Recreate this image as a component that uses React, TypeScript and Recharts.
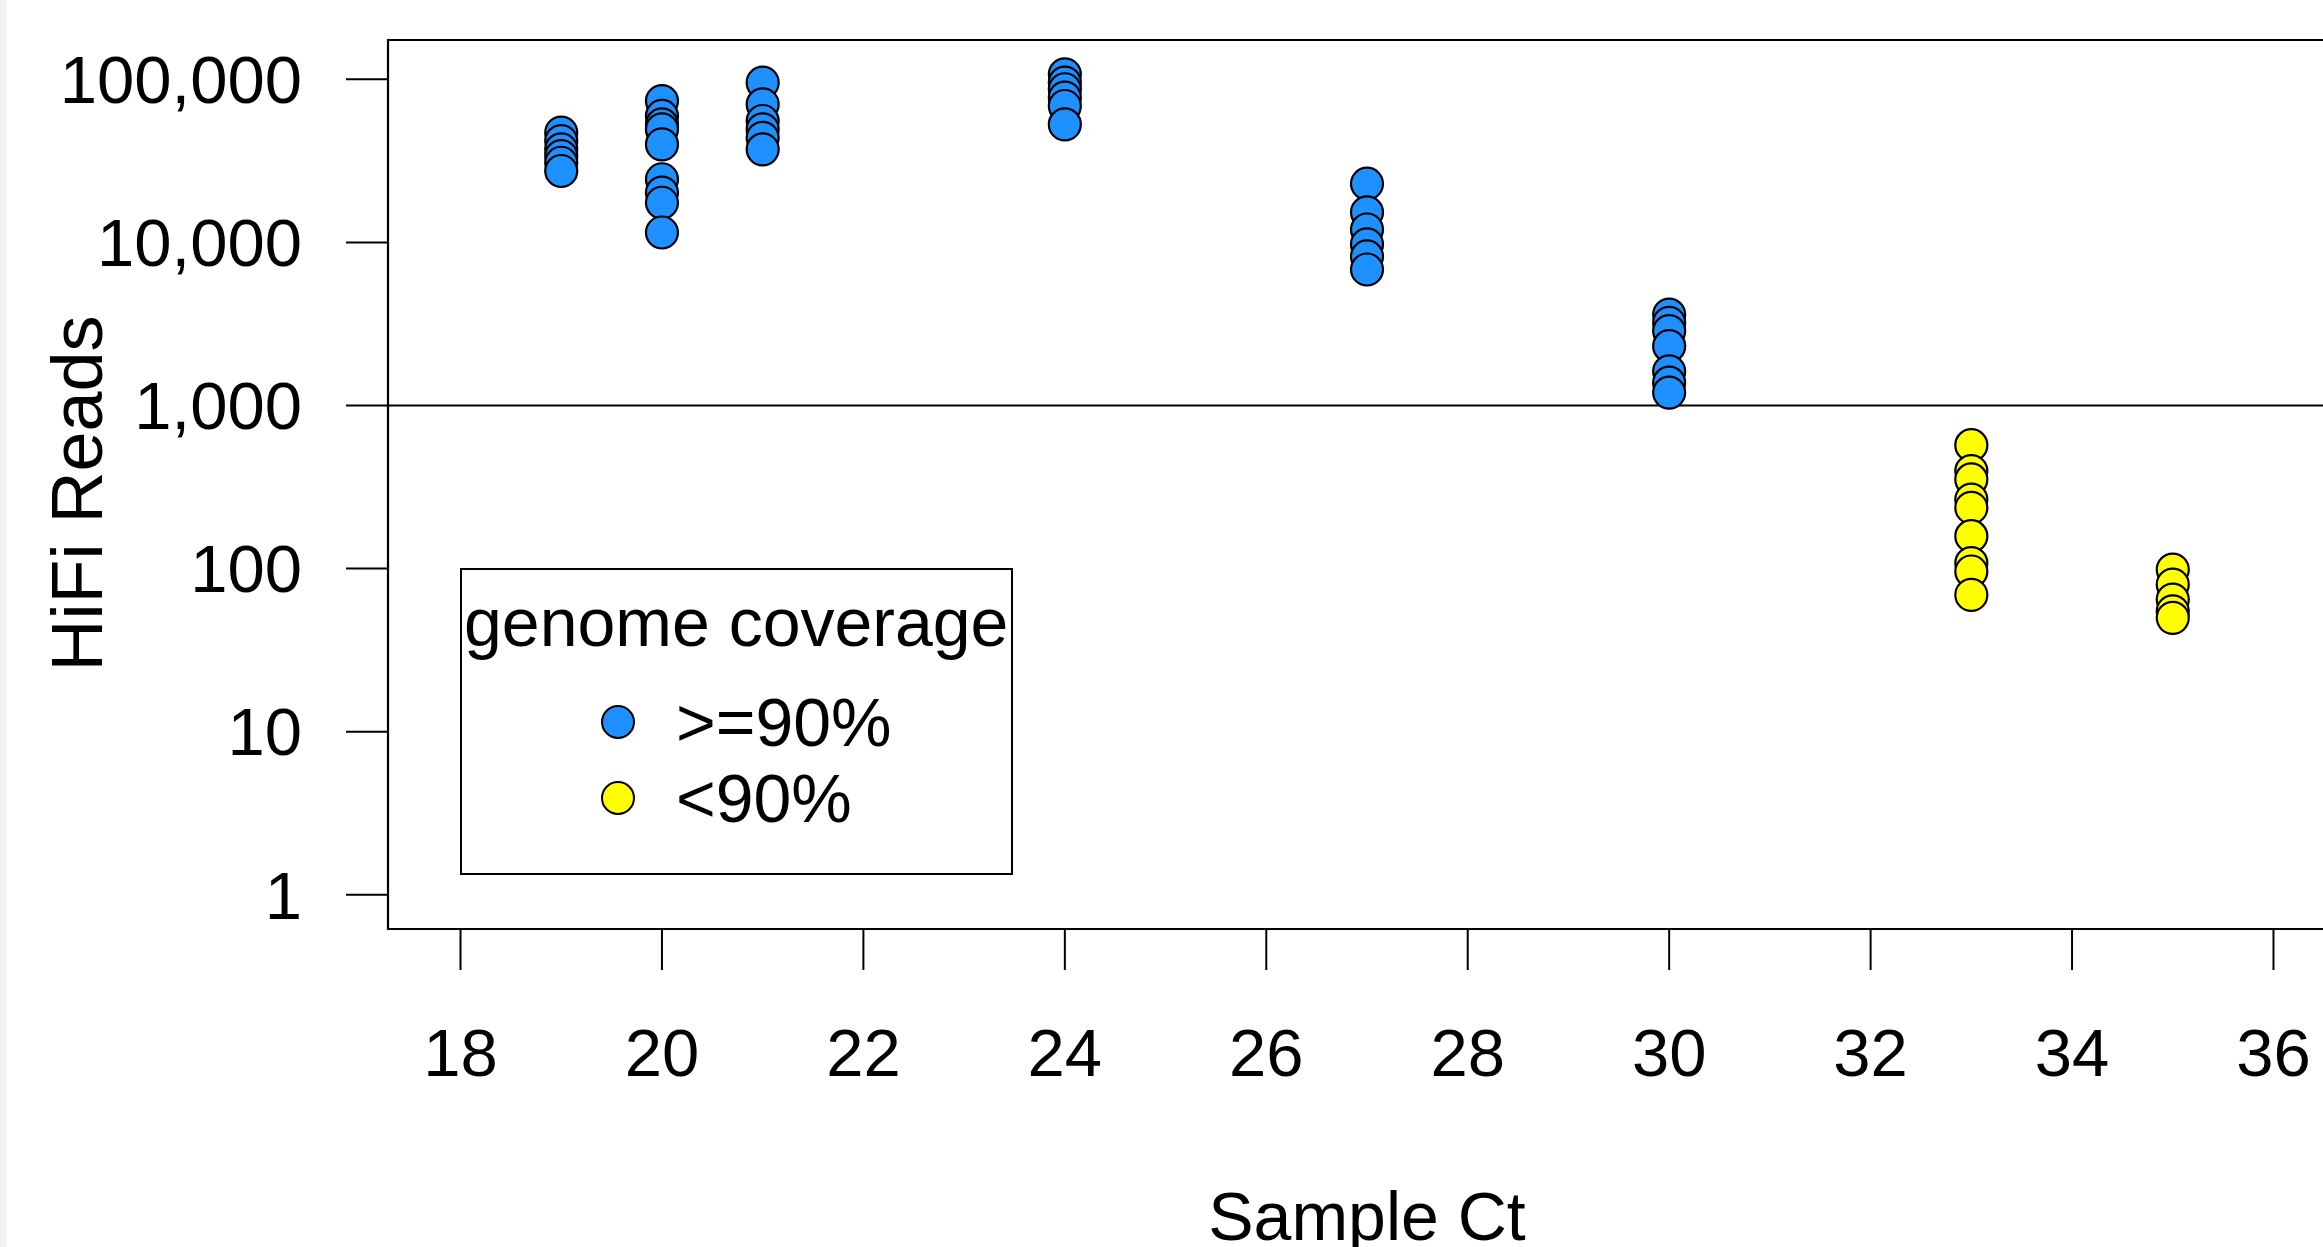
import React from 'react';
import {
  ScatterChart,
  Scatter,
  XAxis,
  YAxis,
  ReferenceLine,
  ReferenceArea,
  Legend,
} from 'recharts';

// Ct values and HiFi read counts, samples with >=90% genome coverage
const highCt = [
  19, 19, 19, 19, 19, 19,
  20, 20, 20, 20, 20, 20, 20, 20, 20,
  21, 21, 21, 21, 21, 21,
  24, 24, 24, 24, 24, 24,
  27, 27, 27, 27, 27, 27,
  30, 30, 30, 30, 30, 30, 30,
];
const highReads = [
  47100, 41800, 37200, 33800, 30800, 27400,
  73600, 59600, 52900, 49300, 39900, 24400, 20200, 17500, 11500,
  95400, 70300, 55500, 49300, 43800, 37200,
  107300, 95400, 86900, 77300, 68600, 52900,
  22900, 15300, 12000, 9730, 8200, 6820,
  3610, 3210, 2860, 2310, 1620, 1380, 1200,
];

// samples with <90% genome coverage
const lowCt = [33, 33, 33, 33, 33, 33, 33, 33, 33, 35, 35, 35, 35, 35];
const lowReads = [571, 396, 352, 265, 236, 158, 108, 96, 69, 98.6, 79.8, 64.6, 54.7, 49.9];

const xTicks = [18, 20, 22, 24, 26, 28, 30, 32, 34, 36];
const yTicks = [1, 10, 100, 1000, 10000, 100000];
const xDomain = [17.28, 36.72];
const yDomain = [0.617, 174200];

const BLUE = '#1E90FF';
const YELLOW = '#FFFF00';
const FONT = '"Liberation Sans", Arial, Helvetica, sans-serif';

const highData = highCt.map((ct, i) => ({ ct, reads: highReads[i] }));
const lowData = lowCt.map((ct, i) => ({ ct, reads: lowReads[i] }));

const dot = (fill: string) => (props: any) => (
  <circle cx={props.cx} cy={props.cy} r={16} fill={fill} stroke="#000" strokeWidth={2.2} />
);

const YLabel = ({ viewBox }: any) => {
  const cy = viewBox.y + viewBox.height / 2 + 9;
  const x = viewBox.x + 14;
  return (
    <text
      x={x}
      y={cy}
      transform={`rotate(-90, ${x}, ${cy})`}
      textAnchor="middle"
      fontFamily={FONT}
      fontSize={72}
      fill="#000"
    >
      HiFi Reads
    </text>
  );
};

const LegendBox = () => (
  <svg width={554} height={308} style={{ display: 'block' }}>
    <rect x={1} y={1} width={551} height={305} fill="#fff" stroke="#000" strokeWidth={2} />
    <text x={4} y={78} fontFamily={FONT} fontSize={68} fill="#000">
      genome coverage
    </text>
    <circle cx={158} cy={154} r={16} fill={BLUE} stroke="#000" strokeWidth={2} />
    <text x={216} y={178} fontFamily={FONT} fontSize={68} fill="#000">
      &gt;=90%
    </text>
    <circle cx={158} cy={230} r={16} fill={YELLOW} stroke="#000" strokeWidth={2} />
    <text x={216} y={254} fontFamily={FONT} fontSize={68} fill="#000">
      &lt;90%
    </text>
  </svg>
);

export default function App() {
  const tickStyle = { fontFamily: FONT, fontSize: 67, fill: '#000' };
  return (
    <div
      style={{
        position: 'relative',
        width: 2323,
        height: 1247,
        overflow: 'hidden',
        background: '#fff',
      }}
    >
      <style>{'body{margin:0;overflow:hidden;}'}</style>
      <div style={{ position: 'absolute', left: 0, top: 0, width: 7, height: 1247, background: '#f2f2f2' }} />
      <div style={{ position: 'absolute', left: 0, top: 0 }}>
        <ScatterChart
          width={2400}
          height={1300}
          margin={{ top: 40, right: 54, bottom: 121, left: 88 }}
        >
          <XAxis
            type="number"
            dataKey="ct"
            domain={xDomain}
            allowDataOverflow
            ticks={xTicks}
            interval={0}
            height={250}
            axisLine={false}
            tickLine={{ stroke: '#000', strokeWidth: 2 }}
            tickSize={41}
            tickMargin={58}
            tick={tickStyle}
            label={{
              value: 'Sample Ct',
              position: 'bottom',
              offset: 13,
              style: { fontFamily: FONT, fontSize: 68, fill: '#000' },
            }}
          />
          <YAxis
            type="number"
            dataKey="reads"
            scale="log"
            domain={yDomain}
            allowDataOverflow
            ticks={yTicks}
            interval={0}
            width={300}
            axisLine={false}
            tickLine={{ stroke: '#000', strokeWidth: 2 }}
            tickSize={42}
            tickMargin={44}
            tick={tickStyle}
            tickFormatter={(v: number) => v.toLocaleString('en-US')}
            label={<YLabel />}
          />
          <ReferenceArea
            x1={xDomain[0]}
            x2={xDomain[1]}
            y1={yDomain[0]}
            y2={yDomain[1]}
            fill="none"
            fillOpacity={0}
            stroke="#000"
            strokeWidth={2.2}
            ifOverflow="visible"
          />
          <ReferenceLine y={1000} stroke="#000" strokeWidth={2} />
          <Legend
            layout="vertical"
            align="center"
            verticalAlign="middle"
            content={<LegendBox />}
            wrapperStyle={{ left: 460, top: 568, width: 554, height: 308 }}
          />
          <Scatter name=">=90%" data={highData} shape={dot(BLUE)} isAnimationActive={false} />
          <Scatter name="<90%" data={lowData} shape={dot(YELLOW)} isAnimationActive={false} />
        </ScatterChart>
      </div>
    </div>
  );
}
